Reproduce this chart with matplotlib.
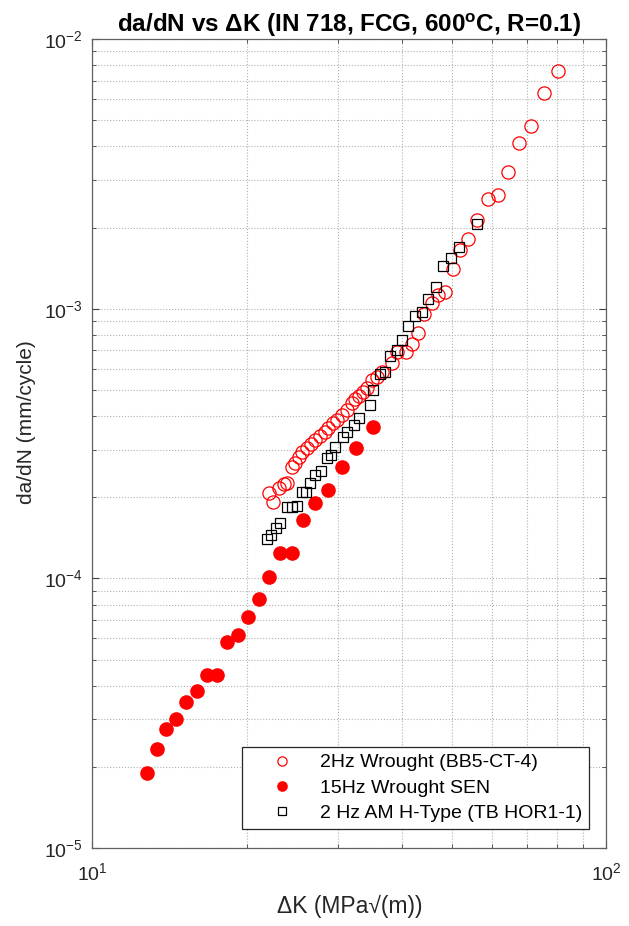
import matplotlib
matplotlib.use("Agg")
import matplotlib.pyplot as plt
from matplotlib.ticker import LogLocator, NullFormatter

plt.rcParams['font.family'] = ['Liberation Sans', 'DejaVu Sans']
plt.rcParams['mathtext.fontset'] = 'custom'
plt.rcParams['mathtext.rm'] = 'Liberation Sans'
plt.rcParams['mathtext.bf'] = 'Liberation Sans:bold'

# 2Hz Wrought (BB5-CT-4)
dk_wrought_2hz = [22.08, 22.48, 23.06, 23.58, 23.93, 24.42, 24.77, 25.22, 25.53, 26.10,
                  26.61, 27.10, 27.71, 28.34, 28.76, 29.41, 29.87, 30.53, 31.23, 31.93,
                  32.41, 33.04, 33.63, 34.16, 34.93, 35.72, 36.53, 38.20, 39.07, 40.73,
                  41.78, 43.05, 44.22, 45.70, 47.08, 48.51, 50.22, 51.88, 53.70, 56.06,
                  58.74, 61.43, 64.42, 67.67, 71.22, 75.58, 80.56]
dadn_wrought_2hz = [2.078e-4, 1.925e-4, 2.158e-4, 2.239e-4, 2.264e-4, 2.596e-4, 2.672e-4,
                    2.819e-4, 2.950e-4, 3.037e-4, 3.150e-4, 3.259e-4, 3.373e-4, 3.499e-4,
                    3.602e-4, 3.759e-4, 3.866e-4, 4.035e-4, 4.211e-4, 4.458e-4, 4.613e-4,
                    4.745e-4, 4.922e-4, 5.067e-4, 5.441e-4, 5.597e-4, 5.826e-4, 6.289e-4,
                    6.907e-4, 6.907e-4, 7.395e-4, 8.162e-4, 9.557e-4, 1.050e-3, 1.124e-3,
                    1.156e-3, 1.400e-3, 1.651e-3, 1.809e-3, 2.133e-3, 2.544e-3, 2.639e-3,
                    3.204e-3, 4.105e-3, 4.757e-3, 6.323e-3, 7.610e-3]

# 15Hz Wrought SEN
dk_wrought_15hz = [12.79, 13.33, 13.90, 14.54, 15.20, 15.95, 16.68, 17.45, 18.29, 19.17,
                   20.10, 21.12, 22.08, 23.17, 24.42, 25.71, 27.10, 28.76, 30.53, 32.56, 35.09]
dadn_wrought_15hz = [1.904e-5, 2.331e-5, 2.757e-5, 3.018e-5, 3.472e-5, 3.823e-5, 4.384e-5,
                     4.384e-5, 5.796e-5, 6.167e-5, 7.210e-5, 8.388e-5, 1.015e-4, 1.245e-4,
                     1.245e-4, 1.646e-4, 1.899e-4, 2.127e-4, 2.582e-4, 3.037e-4, 3.651e-4]

# 2 Hz AM H-Type (TB HOR1-1)
dk_am_2hz = [21.82, 22.25, 22.75, 23.17, 23.93, 24.44, 24.99, 25.53, 26.03, 26.50,
             27.10, 27.84, 28.55, 29.07, 29.64, 30.75, 31.23, 32.26, 33.00, 34.67,
             35.18, 36.25, 37.08, 37.92, 39.07, 39.96, 41.05, 42.41, 43.71, 45.02,
             46.60, 48.14, 49.77, 51.71, 55.91]
dadn_am_2hz = [1.399e-4, 1.448e-4, 1.534e-4, 1.601e-4, 1.839e-4, 1.847e-4, 1.863e-4,
               2.090e-4, 2.096e-4, 2.264e-4, 2.418e-4, 2.502e-4, 2.788e-4, 2.868e-4,
               3.063e-4, 3.336e-4, 3.499e-4, 3.706e-4, 3.924e-4, 4.394e-4, 4.995e-4,
               5.727e-4, 5.840e-4, 6.676e-4, 7.057e-4, 7.689e-4, 8.665e-4, 9.395e-4,
               9.748e-4, 1.086e-3, 1.208e-3, 1.444e-3, 1.538e-3, 1.689e-3, 2.061e-3]

fig = plt.figure(figsize=(6.29, 9.26), dpi=100)
ax = fig.add_axes([0.147, 0.0842, 0.817, 0.8736])

ax.plot(dk_wrought_2hz, dadn_wrought_2hz, 'o', mfc='none', mec='red', ms=9.5, mew=0.9,
        label='2Hz Wrought (BB5-CT-4)')
ax.plot(dk_wrought_15hz, dadn_wrought_15hz, 'o', mfc='red', mec='red', ms=9.5,
        label='15Hz Wrought SEN')
ax.plot(dk_am_2hz, dadn_am_2hz, 's', mfc='none', mec='black', ms=7.5, mew=0.9,
        label='2 Hz AM H-Type (TB HOR1-1)')

ax.set_xscale('log')
ax.set_yscale('log')
ax.set_xlim(10, 100)
ax.set_ylim(1e-5, 1e-2)

ax.xaxis.set_minor_locator(LogLocator(base=10, subs=range(2, 10)))
ax.yaxis.set_minor_locator(LogLocator(base=10, subs=range(2, 10)))
ax.xaxis.set_minor_formatter(NullFormatter())
ax.yaxis.set_minor_formatter(NullFormatter())

ax.grid(True, which='both', linestyle=':', color='#b0b0b0', linewidth=0.8)
ax.tick_params(which='both', direction='in', top=True, right=True, colors='#404040',
               labelcolor='#262626', labelsize=14)
ax.tick_params(which='major', length=5)
ax.tick_params(axis='y', which='major', pad=7)
ax.tick_params(axis='x', which='major', pad=10)
ax.tick_params(which='minor', length=3)
for s in ax.spines.values():
    s.set_color('#606060')
    s.set_linewidth(0.9)

ax.set_title('da/dN vs ΔK (IN 718, FCG, 600$^{\\mathbf{o}}$C, R=0.1)',
             fontweight='bold', fontsize=17.5, pad=5)
ax.set_xlabel('ΔK (MPa√(m))', fontsize=16.5, color='#262626', labelpad=8)
ax.set_ylabel('da/dN (mm/cycle)', fontsize=15, color='#262626', labelpad=8)
ax.yaxis.set_label_coords(-0.11, 0.527)

leg = ax.legend(loc='lower right', bbox_to_anchor=(0.966, 0.0235), fontsize=14,
                fancybox=False, edgecolor='#262626', framealpha=1, markerscale=0.7,
                borderpad=0.35, handletextpad=0.25, labelspacing=0.4, handlelength=3.4,
                borderaxespad=0)
leg.get_frame().set_linewidth(0.9)

fig.savefig('out.png', dpi=100)
